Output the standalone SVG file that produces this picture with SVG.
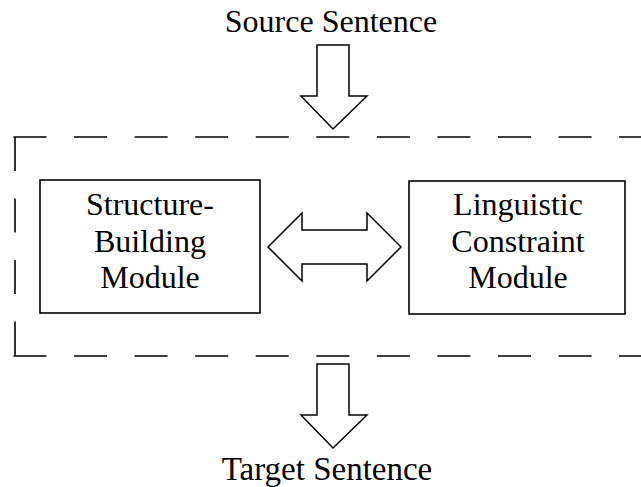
<svg xmlns="http://www.w3.org/2000/svg" width="641" height="487" viewBox="0 0 641 487">
<style>
.bg{fill:#fff}
.box{fill:#fff;stroke:#000;stroke-width:1.6}
.arr{fill:#fff;stroke:#000;stroke-width:1.5;stroke-linejoin:miter}
.dash{fill:none;stroke:#000;stroke-width:1.6}
.t{font-family:"Liberation Serif","Times New Roman",serif;font-size:32px;fill:#000;text-anchor:middle}
.lbl{font-family:"Liberation Serif","Times New Roman",serif;font-size:32px;fill:#000;text-anchor:middle}
</style>
<rect class="bg" x="0" y="0" width="641" height="487"/>
<g id="system-boundary">
<path class="dash" d="M13.5,137 H641" stroke-dasharray="33 27.56"/>
<path class="dash" d="M13.5,356 H641" stroke-dasharray="33 27.56"/>
<path class="dash" d="M15,137 V356" stroke-dasharray="34 27.5"/>
</g>
<g id="source-sentence">
<text class="lbl" x="331" y="32">Source Sentence</text>
</g>
<g id="structure-building-module">
<rect class="box" x="40" y="180" width="220" height="133"/>
<text class="t" x="150" y="215">Structure-</text>
<text class="t" x="150" y="252">Building</text>
<text class="t" x="150" y="288">Module</text>
</g>
<g id="linguistic-constraint-module">
<rect class="box" x="409" y="181" width="216" height="133"/>
<text class="t" x="518" y="215">Linguistic</text>
<text class="t" x="518" y="252">Constraint</text>
<text class="t" x="518" y="288">Module</text>
</g>
<g id="target-sentence">
<text class="lbl" x="327" y="480" style="font-size:33px">Target Sentence</text>
</g>
<g id="connectors">
<polygon class="arr" points="317,45 349,45 349,96 367,96 333,129 301,96 317,96"/>
<polygon class="arr" points="268,247 302,213 302,230 367,230 367,213 401,247 367,281 367,264 302,264 302,281"/>
<polygon class="arr" points="317,364 349,364 349,415 367,415 333,448 301,415 317,415"/>
</g>
</svg>
